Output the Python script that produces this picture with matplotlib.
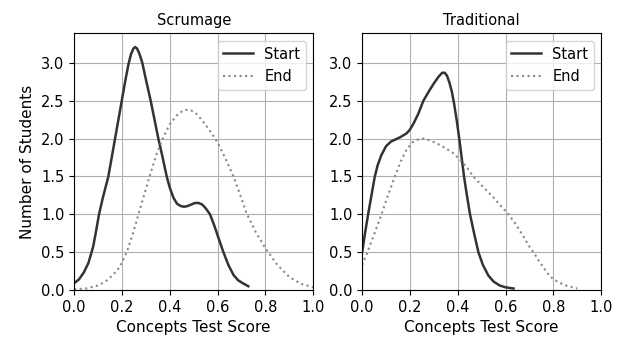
import matplotlib
matplotlib.use('Agg')
import matplotlib.pyplot as plt

# curves (score, number of students)
scrum_start_x = [0.0, 0.02, 0.04, 0.06, 0.08, 0.09, 0.104, 0.12, 0.143, 0.157,
                 0.171, 0.185, 0.199, 0.213, 0.227, 0.238, 0.248, 0.255, 0.263, 0.273,
                 0.285, 0.3, 0.32, 0.336, 0.352, 0.37, 0.387, 0.4, 0.415, 0.43,
                 0.445, 0.46, 0.475, 0.49, 0.505, 0.52, 0.535, 0.55, 0.568, 0.585,
                 0.6, 0.624, 0.645, 0.666, 0.685, 0.705, 0.728]
scrum_start_y = [0.09, 0.14, 0.23, 0.36, 0.58, 0.75, 1.0, 1.22, 1.5, 1.75,
                 2.0, 2.25, 2.5, 2.75, 2.98, 3.12, 3.19, 3.21, 3.19, 3.12,
                 3.0, 2.78, 2.5, 2.25, 2.0, 1.75, 1.5, 1.35, 1.22, 1.14,
                 1.11, 1.10, 1.11, 1.13, 1.15, 1.15, 1.13, 1.08, 1.0, 0.86,
                 0.72, 0.5, 0.33, 0.2, 0.13, 0.09, 0.05]

scrum_end_x = [0.0, 0.05, 0.1, 0.13, 0.16, 0.19, 0.22, 0.245, 0.269, 0.295,
               0.318, 0.345, 0.373, 0.4, 0.43, 0.455, 0.47, 0.49, 0.51, 0.53,
               0.55, 0.575, 0.603, 0.635, 0.666, 0.695, 0.72, 0.76, 0.8, 0.85,
               0.9, 0.95, 1.0]
scrum_end_y = [0.01, 0.02, 0.06, 0.11, 0.19, 0.3, 0.5, 0.74, 1.0, 1.28,
               1.53, 1.8, 2.02, 2.19, 2.31, 2.37, 2.38, 2.37, 2.33, 2.26,
               2.18, 2.07, 1.93, 1.72, 1.5, 1.25, 1.02, 0.76, 0.55, 0.33,
               0.17, 0.08, 0.035]

trad_start_x = [0.0, 0.012, 0.025, 0.04, 0.053, 0.065, 0.08, 0.1, 0.12, 0.14,
                0.16, 0.186, 0.2, 0.215, 0.235, 0.256, 0.28, 0.3, 0.32, 0.335,
                0.345, 0.355, 0.365, 0.375, 0.384, 0.395, 0.406, 0.416, 0.426, 0.438,
                0.451, 0.468, 0.486, 0.505, 0.528, 0.55, 0.575, 0.6, 0.633]
trad_start_y = [0.5, 0.75, 1.0, 1.27, 1.5, 1.65, 1.78, 1.9, 1.96, 1.99,
                2.02, 2.07, 2.12, 2.2, 2.33, 2.5, 2.63, 2.73, 2.82, 2.87,
                2.87, 2.83, 2.74, 2.62, 2.47, 2.25, 2.0, 1.75, 1.5, 1.25,
                1.0, 0.75, 0.5, 0.33, 0.19, 0.11, 0.06, 0.035, 0.02]

trad_end_x = [0.0, 0.02, 0.04, 0.06, 0.081, 0.11, 0.137, 0.16, 0.185, 0.21,
              0.235, 0.255, 0.28, 0.31, 0.34, 0.38, 0.41, 0.44, 0.465, 0.5,
              0.55, 0.58, 0.612, 0.64, 0.67, 0.7, 0.716, 0.74, 0.76, 0.78,
              0.8, 0.83, 0.86, 0.9]
trad_end_y = [0.33, 0.48, 0.65, 0.82, 1.0, 1.27, 1.5, 1.69, 1.85, 1.95,
              1.99, 2.0, 1.98, 1.94, 1.89, 1.81, 1.72, 1.61, 1.5, 1.38,
              1.22, 1.11, 1.0, 0.88, 0.73, 0.57, 0.5, 0.38, 0.29, 0.2,
              0.14, 0.09, 0.05, 0.02]

titles = ['Scrumage', 'Traditional']
curves = [(scrum_start_x, scrum_start_y, scrum_end_x, scrum_end_y),
          (trad_start_x, trad_start_y, trad_end_x, trad_end_y)]

fig = plt.figure(figsize=(6.18, 3.39), dpi=100)
ax1 = fig.add_axes([0.12, 0.1445, 0.387, 0.757])
ax2 = fig.add_axes([0.586, 0.1445, 0.387, 0.757])

for ax, title, (sx, sy, ex, ey) in zip([ax1, ax2], titles, curves):
    ax.plot(sx, sy, color='#333333', lw=1.8, label='Start')
    ax.plot(ex, ey, color='#888888', lw=1.5, ls=':', label='End')
    ax.set_xlim(0, 1.0)
    ax.set_ylim(0, 3.39)
    ax.set_xticks([0.0, 0.2, 0.4, 0.6, 0.8, 1.0])
    ax.set_yticks([0.0, 0.5, 1.0, 1.5, 2.0, 2.5, 3.0])
    ax.tick_params(labelsize=10.5)
    ax.grid(True, color='#b0b0b0', lw=0.8)
    ax.set_title(title, fontsize=10.5)
    ax.set_xlabel('Concepts Test Score', fontsize=11)
    ax.legend(loc='upper right', fontsize=10.5)

ax1.set_ylabel('Number of Students', fontsize=11)

fig.savefig('out.png', dpi=100)
